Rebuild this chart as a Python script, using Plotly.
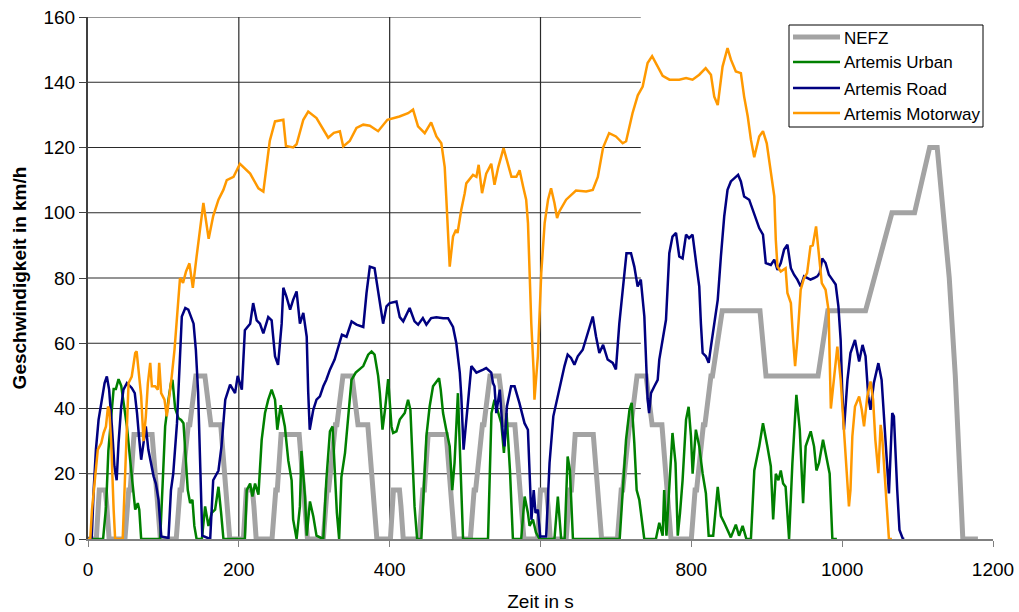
import plotly.graph_objects as go

# ---- NEFZ (NEDC) speed profile: breakpoints in s and km/h ----
nefz_t = [
    0, 11, 15, 23, 25, 28, 49, 54, 56, 61, 85, 93, 96, 117, 122, 124, 133, 135, 143, 155, 163, 176, 185, 188,
    195, 206, 210, 218, 220, 223, 244, 249, 251, 256, 280, 288, 291, 312, 317, 319, 328, 330, 338, 350, 358, 371, 380, 383,
    390, 401, 405, 413, 415, 418, 439, 444, 446, 451, 475, 483, 486, 507, 512, 514, 523, 525, 533, 545, 553, 566, 575, 578,
    585, 596, 600, 608, 610, 613, 634, 639, 641, 646, 670, 678, 681, 702, 707, 709, 718, 720, 728, 740, 748, 761, 770, 773,
    780, 800, 805, 807, 816, 818, 826, 828, 841, 891, 899, 968, 981, 1031, 1066, 1096, 1116, 1126, 1142, 1150, 1160, 1180,
]
nefz_v = [
    0, 0, 15, 15, 10, 0, 0, 15, 15, 32, 32, 10, 0, 0, 15, 15, 35, 35, 50, 50, 35, 35, 10, 0,
    0, 0, 15, 15, 10, 0, 0, 15, 15, 32, 32, 10, 0, 0, 15, 15, 35, 35, 50, 50, 35, 35, 10, 0,
    0, 0, 15, 15, 10, 0, 0, 15, 15, 32, 32, 10, 0, 0, 15, 15, 35, 35, 50, 50, 35, 35, 10, 0,
    0, 0, 15, 15, 10, 0, 0, 15, 15, 32, 32, 10, 0, 0, 15, 15, 35, 35, 50, 50, 35, 35, 10, 0,
    0, 0, 15, 15, 35, 35, 50, 50, 70, 70, 50, 50, 70, 70, 100, 100, 120, 120, 80, 50, 0, 0,
]

# ---- Artemis Urban ----
urban_t = [
    0, 20, 24, 27, 31, 34, 37, 40.5, 44, 47, 51.6, 56, 60.4, 62.6, 66, 68, 70.5, 95.7, 99, 102.3,
    106.7, 110, 112, 115.6, 120, 123.5, 126.6, 128.8, 132.3, 135.4, 138.5, 141, 144, 151, 155.3, 159.7,
    164, 168.5, 173, 176.5, 179.6, 208, 210.5, 215, 218, 221.5, 226, 230.3, 234.7, 239, 243.5, 248,
    251, 255.5, 261, 265.6, 270, 272, 276.6, 281, 283, 287.7, 290, 294.3, 298.7, 303, 312, 316,
    320.8, 324.3, 327, 330, 333, 336, 340.8, 345, 349.4, 355, 365, 371.5, 376, 380, 384.7, 387,
    390.5, 394, 398, 402.4, 404.6, 409, 413.4, 420, 424.4, 427.5, 430, 433, 436.4, 442, 448.7, 453,
    457.5, 462, 465.5, 467.7, 470.8, 475, 479.6, 483, 486, 490.5, 493, 497.3, 530.4, 535, 539, 544,
    548, 551.5, 555, 559.5, 563.4, 574.4, 579, 583.3, 585.5, 590, 594, 598.7, 618.5, 623, 627.4, 632,
    636, 639, 643, 705, 708.7, 713.4, 718, 720.9, 724.4, 727.5, 731, 737.6, 753, 757.5, 762, 764,
    767, 770.8, 775, 779, 782, 785, 788.4, 793, 796.4, 799.5, 801.7, 806, 810.5, 815, 819.3, 823,
    829, 835, 839.2, 843.6, 848, 852.4, 859, 863.3, 868, 873, 879, 883.5, 890, 895, 900.8, 905.4,
    908.5, 912, 915.5, 918.6, 921.7, 925, 929.6, 934, 939.3, 943.8, 948.2, 951.6, 958.3, 962.7, 965.9,
    969.3, 974.6, 978.2, 983.4, 987, 993,
]
urban_v = [
    0, 0, 10, 27, 38, 46, 46, 49, 47, 42, 34.5, 24, 13, 9, 11, 9, 0, 0, 17, 34.5,
    42.7, 47.8, 48.8, 40, 37, 36.5, 35.5, 27, 15, 11, 12, 4, 0, 0, 10, 4,
    8, 9, 16, 8, 0, 0, 15, 17, 13, 17, 13.6, 30.4, 38.6, 42.7, 45.8, 42.7,
    33.5, 41, 34.5, 24, 18, 6, 0, 10, 27, 13, 1, 11.5, 7, 1, 0, 18,
    33, 34.5, 22, 8, 0, 19, 26.4, 38.6, 48.8, 51, 53, 56.5, 57.5, 56.5, 50, 44.7,
    33.5, 40, 49, 34.5, 32.5, 33, 36.6, 38.6, 42.7, 39.6, 23.3, 10, 0, 0, 31.5, 40.6,
    46.8, 48.3, 49.3, 45.8, 38.6, 33.5, 28.4, 15, 23.3, 44.7, 28.4, 0, 0, 38.6, 42.7, 38.6,
    35.5, 26.4, 38.6, 21, 0, 0, 13, 8, 4, 6, 2, 0, 0, 13, 0, 0,
    25.3, 21, 0, 0, 15, 30.4, 39.6, 41.7, 29.4, 15, 12, 0, 0, 5, 1, 15,
    1, 18, 32.5, 23.3, 1, 8, 18, 36.6, 40.5, 31.5, 20, 33.5, 28.4, 20, 14, 1,
    1, 16, 7, 5, 3, 0.5, 4.4, 1, 4, 0, 0, 21, 28.4, 35.5, 28.4, 22.3,
    6, 20, 18, 21, 17, 16, 0, 23.3, 44.2, 33.5, 11, 28.4, 33, 28.4, 21,
    23.3, 30.4, 26.4, 20, 0, 0,
]

# ---- Artemis Road ----
road_t = [
    0, 5, 7.5, 10.5, 14, 18.5, 22, 25, 28, 31.7, 35, 38, 40.5, 44, 47, 51.6, 58, 62, 65, 68,
    70.5, 73.6, 76.7, 80, 83.8, 87, 90, 93.5, 97, 106.7, 110, 113, 118, 121, 124.4, 129, 133, 140,
    143, 146, 149, 151.5, 162, 166, 173, 177, 182, 188.4, 195, 198.5, 204, 208, 215, 219, 223.7, 228,
    232.5, 239, 243.5, 248, 252, 256.8, 259, 263, 268, 272, 276.6, 281, 285.5, 290, 292, 294, 298.7,
    303, 307.5, 312, 316, 320.8, 327, 331.7, 336.7, 342.8, 349.5, 356, 365, 369.3, 373.7, 380, 387,
    391.3, 395.8, 400, 409, 413.4, 418, 426.5, 433, 437.7, 444, 448.7, 455, 462, 471, 477.4, 484,
    488.4, 493, 495, 498, 501.6, 505, 508.3, 515, 524, 528, 534.7, 537, 539, 541.4, 546, 550, 552.3,
    555.5, 561, 565.6, 572, 578.8, 583.3, 585.5, 588, 591, 593.4, 596.5, 599.6, 607.5, 612, 617, 623,
    627.4, 631.8, 636, 640.5, 645, 649.4, 656, 663, 669.3, 673.7, 678, 683, 689, 695.8, 700, 704.5,
    709, 714, 720, 724.4, 728.8, 733, 737.7, 742, 744, 746.5, 751, 755.4, 757.5, 762, 766.4, 770.8,
    775, 779.7, 784, 788.4, 793, 797, 801.6, 807, 810.5, 812.7, 815, 819.3, 823, 826, 830.4, 835,
    839.2, 843.6, 848, 852.4, 859, 862, 865.7, 870, 876.7, 881, 885.5, 890, 895, 898.7, 905.4, 910,
    914.2, 918.6, 923, 927.4, 932, 936.2, 940.6, 945, 949.5, 953.5, 958, 962.7, 967, 970.2, 973.6,
    978, 982.4, 987, 991.4, 995, 998, 1000, 1002.4, 1007, 1011, 1017, 1022.5, 1027, 1031, 1034.6,
    1037.6, 1042, 1048, 1052.3, 1055.4, 1060, 1062, 1066.4, 1068.6, 1073, 1076, 1080, 1082,
]
road_v = [
    0, 0.5, 15, 27.4, 36.5, 42.7, 47.8, 49.8, 45.8, 34.5, 22.3, 18, 29.4, 40.6, 45.8, 47.8, 46.3, 44.7, 38.6, 30.4,
    24.3, 29.4, 34.5, 27.4, 22.3, 19.2, 17, 12, 0.8, 0.3, 15, 20, 35.5, 50, 68.2, 70.8, 70.3, 66,
    58, 45, 22, 1, 0, 18, 21, 28.4, 42.7, 47.3, 44.7, 50, 45.8, 64, 66, 72.3, 67, 66,
    63, 68, 67, 56, 53.4, 66, 77, 74.4, 70.3, 73.3, 75.9, 66, 69.3, 62, 45, 33.5, 39.6,
    42.7, 43.7, 46.8, 48.8, 51.9, 55, 59, 62.6, 62, 66.7, 65.7, 65, 75.4, 83.5, 83, 73.3,
    66, 71.3, 72.3, 72.8, 68, 66.7, 70.8, 66.7, 65.7, 67.7, 65.7, 67.7, 68, 67.7, 67.7, 65,
    60, 50.9, 43.7, 27.4, 35.5, 44.7, 53, 51, 51.9, 52.4, 51, 47.8, 46.8, 38.6, 45.8, 32.5, 28.4,
    40.7, 46.8, 46.8, 41.7, 35.5, 33.5, 18.2, 5.9, 15, 8, 9, 0.8, 0.8, 23.3, 37.6, 43.7,
    48.8, 53, 56.5, 55.5, 53.4, 56, 58, 63, 68.2, 62, 57, 59.5, 55, 54, 52, 66,
    76.4, 87.6, 87.6, 83.5, 77.4, 79.5, 68.2, 43, 38.6, 44.7, 46.8, 48.8, 55, 61, 67.2, 87.6,
    92.7, 93.8, 86.6, 86, 93.3, 92.2, 93.3, 83.5, 77.4, 66, 57, 56, 54, 59, 66, 73.3,
    86.6, 98.9, 107, 109.6, 111, 111.6, 109.6, 105, 104, 101, 97.9, 95.3, 93.3, 84.6, 84, 85.6,
    82.5, 84.6, 88.7, 90.2, 83, 81, 79.5, 77.4, 80.5, 80, 79.5, 80, 80.5, 81.5, 86,
    84.6, 81, 79.5, 78, 71.3, 61, 46, 33.5, 48.8, 57, 61, 54.4, 59.5, 56, 43.7,
    39.6, 47.8, 53.9, 48.8, 38.6, 21.2, 14, 38.6, 37.6, 15, 2.8, 0.3, 0,
]

# ---- Artemis Motorway ----
motorway_t = [
    0, 3, 5.3, 9.7, 13, 17.6, 20.7, 23.8, 26.5, 28.2, 30.8, 34, 36, 46, 48.5, 51.6, 53.8, 58, 62.6, 64.5,
    68, 70.5, 73.6, 76.7, 79.4, 82.5, 84.7, 89, 92.6, 94.4, 97, 101.4, 104.5, 107.6, 111, 114.7, 118, 122,
    126, 130, 134.5, 139, 144, 149, 153, 160, 166, 173, 179.5, 184, 193, 201.5, 215, 226, 232.5, 241,
    248, 259, 262.5, 272, 276.6, 285.5, 292, 303, 309.7, 318.5, 326, 334, 338.4, 347, 356, 365, 373.7,
    384.7, 397, 413, 424.4, 431, 437.6, 446.5, 455, 462, 468.5, 473, 475, 477.5, 479.6, 484, 488, 490,
    495, 499.5, 501.6, 510.5, 515, 518, 522.5, 528, 534.7, 539, 544, 551, 557, 561.5, 568, 572.3, 577,
    581, 583.4, 585.5, 587.8, 591, 592, 596.5, 601, 605.5, 610, 614, 618.5, 622, 625, 634, 647, 660.5,
    669.3, 676, 683, 691, 700, 709, 713.5, 722, 729, 735.5, 742, 748, 755.5, 762, 771, 784, 793,
    801.6, 810.5, 819, 826, 830.4, 835, 841.4, 848, 852.4, 859, 865.7, 870, 874.8, 879, 883.4, 890,
    895, 900, 905.4, 910, 912, 914.2, 918.6, 925, 927.4, 932, 935, 937.6, 940.6, 945, 949.5, 953.5,
    958, 961, 965.4, 969, 973, 978, 982, 985, 989, 993.6, 998, 1002.4, 1005.5, 1009, 1011, 1013.5,
    1017, 1022.5, 1026, 1029, 1033.3, 1037.6, 1041, 1044, 1048, 1051, 1053, 1057, 1060, 1062, 1066,
]
motorway_v = [
    0, 0, 9, 19, 27.4, 29.4, 32.5, 34.5, 40.6, 39.6, 29.4, 9, 0, 0, 17, 37.6, 47.8, 49.8, 57, 57.5,
    49.8, 43.7, 30, 37.6, 47.8, 54, 46.8, 46.8, 45.8, 54, 44.7, 42.7, 37.6, 42.7, 49.8, 58, 68, 80,
    78.5, 82, 84.5, 77, 86.6, 96, 103, 92, 99, 104, 107, 110, 111, 115, 112, 107.5, 106.5, 122,
    128, 128.5, 120.5, 120, 121, 128.5, 131, 129, 126.5, 123, 124.5, 125, 120.3, 122, 126, 127, 126.7,
    125, 128.5, 129.5, 130.5, 131.6, 126.5, 124.4, 127.7, 123.4, 121.3, 114, 105, 91.7, 83.5, 92.7, 94.8, 93.8,
    101, 106, 109, 111.6, 111, 114.7, 106, 112, 115, 108.6, 114, 119.8, 115, 111, 111, 113, 108,
    104, 96.8, 81.5, 66, 51, 42.7, 56, 81.5, 96.8, 104, 107.5, 103, 98.4, 100.4, 104, 106.8, 106.5,
    107, 111, 120, 124.4, 123.4, 121.3, 121.9, 130.5, 136, 138.7, 145.9, 148, 145, 142, 140.8, 140.8, 141.3,
    140.8, 142.3, 144.3, 142.3, 135.6, 133, 144.8, 150.5, 147, 143.3, 142.8, 135.6, 129.5, 122.4, 117, 123.4,
    125, 121.3, 112, 105, 91.7, 83.5, 82, 83, 75.4, 72.3, 61, 53, 61, 76.4, 80, 81.5,
    89.7, 90, 95.8, 87.6, 78.4, 76.4, 70, 40, 48.8, 59, 48.8, 33.5, 21.2, 10, 15, 31.5,
    40.6, 43.7, 39.6, 34.5, 43.7, 48.3, 42.7, 30.4, 20.2, 35, 31.5, 16, 7, 0, 0,
]

series_names = ["NEFZ", "Artemis Urban", "Artemis Road", "Artemis Motorway"]
series_colors = ["#A3A3A3", "#008000", "#000080", "#FF9900"]
series_widths = [5, 2.5, 2.5, 2.5]

FONT = "Liberation Sans, Arial, sans-serif"
W, H = 1019, 612
M_L, M_R, M_T, M_B = 88, 26, 17, 73
X_MAX, Y_MAX = 1200, 160
GRID_X_END = 733          # extent of the gridded panel on the time axis
GRID_Y = [20, 40, 60, 80, 100, 120, 140, 160]
GRID_X = [200, 400, 600]

PLOT_W = W - M_L - M_R
PLOT_H = H - M_T - M_B


def px_to_paper(px, py):
    """Convert page pixel coordinates into paper coordinates of the plot area."""
    return (px - M_L) / PLOT_W, (H - M_B - py) / PLOT_H


fig = go.Figure()
series_data = [(nefz_t, nefz_v), (urban_t, urban_v), (road_t, road_v), (motorway_t, motorway_v)]
for (xs, ys), name, color, width in zip(series_data, series_names, series_colors, series_widths):
    fig.add_trace(go.Scatter(x=xs, y=ys, mode="lines", name=name, showlegend=False,
                             line=dict(color=color, width=width)))

shapes = []
for gy in GRID_Y:
    shapes.append(dict(type="line", xref="x", yref="y", x0=0, x1=GRID_X_END, y0=gy, y1=gy,
                       line=dict(color="#2a2a2a", width=1.2), layer="below"))
for gx in GRID_X:
    shapes.append(dict(type="line", xref="x", yref="y", x0=gx, x1=gx, y0=0, y1=Y_MAX,
                       line=dict(color="#2a2a2a", width=1.2), layer="below"))

# Legend box with line samples and labels
annotations = []
bx0, by0 = px_to_paper(789, 25)
bx1, by1 = px_to_paper(983, 127)
shapes.append(dict(type="rect", xref="paper", yref="paper", x0=bx0, x1=bx1, y0=by1, y1=by0,
                   fillcolor="white", line=dict(color="black", width=1), layer="above"))
row_y = [37, 62, 88, 113]
for name, color, width, ry in zip(series_names, series_colors, series_widths, row_y):
    sx0, sy = px_to_paper(793, ry)
    sx1, _ = px_to_paper(840, ry)
    shapes.append(dict(type="line", xref="paper", yref="paper", x0=sx0, x1=sx1, y0=sy, y1=sy,
                       line=dict(color=color, width=width), layer="above"))
    tx, ty = px_to_paper(842, ry + 1)
    annotations.append(dict(xref="paper", yref="paper", x=tx, y=ty, text=name, showarrow=False,
                            xanchor="left", yanchor="middle",
                            font=dict(family=FONT, size=17, color="black")))

fig.update_layout(
    width=W, height=H,
    margin=dict(l=M_L, r=M_R, t=M_T, b=M_B, autoexpand=False),
    paper_bgcolor="white", plot_bgcolor="white",
    font=dict(family=FONT, color="black", size=18),
    shapes=shapes,
    annotations=annotations,
    showlegend=False,
    xaxis=dict(range=[0, X_MAX], tickvals=[0, 200, 400, 600, 800, 1000, 1200],
               automargin=False,
               showgrid=False, zeroline=False, showline=True, linecolor="#808080", linewidth=2,
               ticks="outside", ticklen=6, tickcolor="#808080", tickwidth=1,
               ticklabelstandoff=6,
               tickfont=dict(family=FONT, size=19),
               title=dict(text="Zeit in s", font=dict(family=FONT, size=19), standoff=16)),
    yaxis=dict(range=[0, Y_MAX], tickvals=[0, 20, 40, 60, 80, 100, 120, 140, 160],
               automargin=False,
               showgrid=False, zeroline=False, showline=True, linecolor="#404040", linewidth=2,
               ticks="outside", ticklen=7, tickcolor="#404040", tickwidth=1,
               tickfont=dict(family=FONT, size=19),
               title=dict(text="<b>Geschwindigkeit in km/h</b>", font=dict(family=FONT, size=19),
                          standoff=12)),
)

fig.write_html("out.html")
